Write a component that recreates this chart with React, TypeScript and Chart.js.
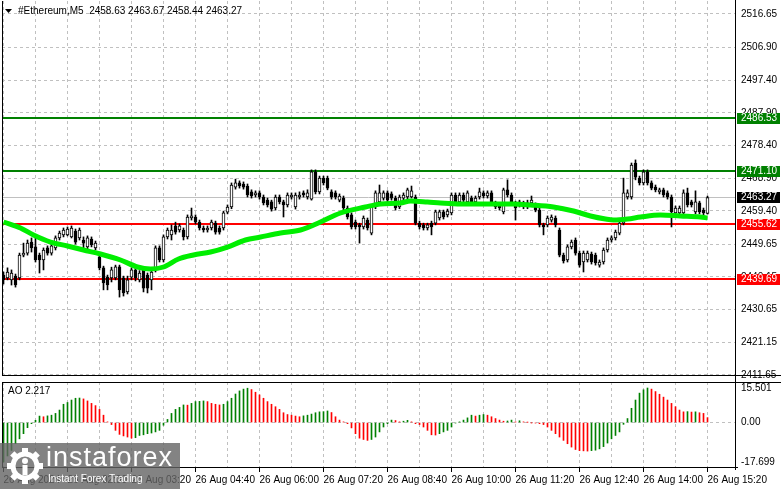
import React, { useEffect, useRef } from "react";
import { Chart, registerables } from "chart.js";

Chart.register(...registerables);

// ---------- data ----------
const SYMBOL = "#Ethereum,M5";

const TIME_LABELS = [
  "26 Aug 2024", "26 Aug 02:00", "26 Aug 03:20", "26 Aug 04:40", "26 Aug 06:00", "26 Aug 07:20",
  "26 Aug 08:40", "26 Aug 10:00", "26 Aug 11:20", "26 Aug 12:40", "26 Aug 14:00", "26 Aug 15:20",
];

const OPEN = [
  2440.7, 2439.9, 2439.3, 2440.4, 2439.9, 2446.5, 2447.1, 2450.3, 2448.9, 2446.5,
  2445.1, 2448.6, 2447.1, 2448.6, 2451.5, 2452.4, 2452.4, 2451.8, 2453.5, 2451.5,
  2450.9, 2448.9, 2451.2, 2448.6, 2446.0, 2442.8, 2440.1, 2439.9, 2439.9, 2443.1,
  2439.9, 2435.8, 2440.1, 2442.2, 2439.3, 2442.2, 2440.7, 2439.3, 2442.2, 2448.6,
  2445.1, 2451.8, 2452.4, 2455.0, 2453.8, 2453.8, 2451.8, 2457.3, 2457.6, 2456.1,
  2454.4, 2453.8, 2454.4, 2455.8, 2454.4, 2454.4, 2459.0, 2460.5, 2466.3, 2467.5,
  2467.2, 2466.6, 2464.9, 2464.0, 2464.6, 2463.4, 2462.5, 2462.0, 2460.2, 2463.4,
  2462.0, 2461.1, 2463.4, 2460.5, 2463.4, 2464.6, 2463.4, 2462.8, 2470.7, 2464.9,
  2468.9, 2468.9, 2464.9, 2464.6, 2462.5, 2463.1, 2460.2, 2458.2, 2456.1, 2455.3,
  2454.7, 2456.7, 2452.9, 2460.5, 2462.0, 2463.1, 2464.6, 2464.3, 2463.1, 2460.5,
  2463.1, 2463.4, 2463.4, 2463.4, 2455.8, 2455.3, 2454.4, 2455.8, 2455.8, 2457.3,
  2459.1, 2458.2, 2458.8, 2464.0, 2462.0, 2464.0, 2462.0, 2463.1, 2462.0, 2463.4,
  2464.6, 2463.7, 2464.6, 2461.7, 2461.1, 2459.1, 2465.5, 2464.0, 2461.7, 2461.1,
  2460.5, 2460.5, 2461.7, 2461.1, 2459.6, 2455.3, 2455.3, 2456.7, 2457.3, 2453.8,
  2446.5, 2445.1, 2448.9, 2450.9, 2447.1, 2444.5, 2445.1, 2446.8, 2446.5, 2443.6,
  2444.5, 2448.0, 2450.9, 2451.5, 2452.9, 2455.8, 2463.4, 2463.4, 2473.3, 2468.9,
  2467.5, 2470.7, 2467.5, 2466.3, 2464.9, 2465.5, 2464.6, 2463.4, 2458.8, 2458.8,
  2458.8, 2464.6, 2462.0, 2459.1, 2461.7, 2459.6, 2458.63,
];

const HIGH = [
  2441.6, 2442.8, 2442.2, 2441.0, 2447.1, 2450.0, 2450.9, 2451.5, 2451.8, 2447.1,
  2448.6, 2449.2, 2449.7, 2452.1, 2453.5, 2454.4, 2454.7, 2455.0, 2454.1, 2454.4,
  2451.8, 2452.1, 2451.8, 2450.6, 2446.5, 2443.3, 2440.7, 2443.0, 2443.6, 2443.6,
  2440.4, 2440.4, 2442.8, 2442.8, 2442.0, 2442.8, 2441.3, 2442.2, 2449.2, 2449.2,
  2452.4, 2454.4, 2455.3, 2456.1, 2455.6, 2454.4, 2458.2, 2460.2, 2458.2, 2456.7,
  2455.0, 2455.0, 2456.7, 2456.4, 2455.0, 2459.3, 2461.1, 2467.5, 2468.6, 2468.1,
  2467.8, 2467.2, 2465.5, 2465.2, 2465.2, 2464.0, 2463.1, 2462.5, 2464.0, 2464.0,
  2462.5, 2464.6, 2464.6, 2464.6, 2464.9, 2465.2, 2465.5, 2471.3, 2471.3, 2469.5,
  2469.5, 2469.5, 2465.5, 2465.2, 2464.3, 2463.7, 2460.8, 2458.8, 2456.7, 2455.8,
  2457.9, 2457.3, 2461.1, 2465.2, 2466.9, 2465.2, 2465.2, 2464.9, 2463.7, 2464.0,
  2464.6, 2466.0, 2466.6, 2464.0, 2456.4, 2455.8, 2455.8, 2456.4, 2459.6, 2459.6,
  2459.6, 2459.9, 2464.6, 2464.6, 2464.6, 2464.6, 2465.2, 2463.7, 2463.7, 2466.0,
  2465.2, 2465.2, 2465.2, 2462.2, 2461.7, 2466.0, 2468.4, 2464.6, 2462.2, 2462.5,
  2462.2, 2462.5, 2463.7, 2461.7, 2460.2, 2455.8, 2457.9, 2458.2, 2457.9, 2454.4,
  2447.1, 2449.5, 2450.9, 2451.5, 2447.7, 2447.7, 2447.7, 2447.4, 2447.1, 2445.1,
  2448.6, 2451.5, 2452.1, 2453.8, 2456.4, 2468.9, 2465.5, 2473.3, 2474.2, 2469.5,
  2471.3, 2471.3, 2468.1, 2466.9, 2466.0, 2466.0, 2465.2, 2464.0, 2460.8, 2460.8,
  2465.5, 2466.0, 2462.5, 2465.2, 2462.2, 2460.2, 2463.67,
];

const LOW = [
  2438.1, 2439.3, 2437.8, 2437.2, 2439.3, 2446.0, 2446.5, 2447.4, 2444.5, 2441.3,
  2442.2, 2446.5, 2446.5, 2448.0, 2450.9, 2451.8, 2452.1, 2451.5, 2449.7, 2450.9,
  2448.6, 2448.3, 2448.9, 2448.0, 2442.2, 2436.4, 2436.4, 2438.7, 2439.3, 2434.3,
  2434.6, 2435.2, 2439.3, 2439.0, 2438.7, 2435.8, 2435.5, 2436.4, 2441.6, 2444.5,
  2444.5, 2451.2, 2450.9, 2452.6, 2453.2, 2450.9, 2451.2, 2456.7, 2455.6, 2453.8,
  2453.2, 2453.2, 2453.8, 2452.6, 2452.6, 2453.8, 2458.5, 2460.0, 2465.7, 2466.0,
  2465.7, 2463.4, 2463.1, 2463.4, 2462.8, 2461.1, 2460.5, 2459.3, 2459.6, 2461.4,
  2457.6, 2460.5, 2462.8, 2459.9, 2462.8, 2463.4, 2462.8, 2462.5, 2464.3, 2464.3,
  2466.9, 2465.5, 2462.8, 2462.8, 2462.0, 2459.6, 2457.0, 2454.1, 2454.1, 2450.0,
  2454.1, 2453.8, 2452.4, 2460.0, 2461.4, 2462.5, 2462.0, 2462.5, 2459.6, 2460.0,
  2462.5, 2462.8, 2463.1, 2455.3, 2454.1, 2453.8, 2453.8, 2452.4, 2455.3, 2456.7,
  2457.0, 2457.6, 2458.2, 2461.4, 2461.4, 2462.0, 2461.4, 2461.4, 2461.4, 2462.8,
  2463.1, 2463.1, 2461.4, 2460.0, 2459.6, 2458.5, 2463.4, 2461.1, 2456.7, 2460.5,
  2460.0, 2460.0, 2461.1, 2459.1, 2454.7, 2452.4, 2454.7, 2456.1, 2454.7, 2446.0,
  2444.2, 2444.5, 2448.3, 2446.5, 2443.0, 2441.6, 2444.5, 2443.9, 2443.6, 2443.0,
  2443.9, 2447.4, 2450.3, 2450.9, 2452.4, 2455.3, 2462.8, 2462.8, 2468.4, 2466.9,
  2466.9, 2466.9, 2465.5, 2464.9, 2464.3, 2463.4, 2462.8, 2454.7, 2458.2, 2458.2,
  2458.2, 2460.5, 2460.5, 2458.5, 2458.5, 2458.2, 2458.44,
];

const CLOSE = [
  2439.3, 2441.6, 2441.3, 2437.8, 2446.5, 2447.1, 2450.0, 2448.6, 2445.1, 2445.1,
  2448.0, 2447.1, 2449.2, 2451.5, 2452.9, 2453.8, 2454.1, 2454.4, 2450.3, 2453.8,
  2450.0, 2451.5, 2449.5, 2450.0, 2442.8, 2438.4, 2437.8, 2442.2, 2443.1, 2436.4,
  2435.5, 2439.3, 2442.2, 2439.9, 2441.3, 2436.9, 2436.9, 2441.6, 2448.6, 2445.1,
  2451.8, 2453.8, 2453.8, 2453.2, 2455.0, 2451.8, 2457.6, 2457.9, 2456.1, 2454.4,
  2453.8, 2454.4, 2456.1, 2453.2, 2453.2, 2458.8, 2460.5, 2466.9, 2467.5, 2466.6,
  2466.3, 2464.0, 2463.7, 2464.6, 2463.4, 2461.7, 2461.1, 2459.9, 2463.4, 2462.0,
  2461.1, 2464.0, 2464.0, 2464.0, 2464.0, 2464.0, 2464.6, 2470.7, 2464.9, 2468.9,
  2467.5, 2466.0, 2463.4, 2463.4, 2463.7, 2460.2, 2457.6, 2454.7, 2454.7, 2454.7,
  2457.3, 2454.4, 2460.5, 2464.6, 2464.6, 2464.6, 2462.5, 2463.1, 2460.2, 2463.4,
  2464.0, 2465.5, 2465.2, 2455.8, 2454.7, 2454.4, 2455.3, 2454.7, 2459.1, 2459.1,
  2457.6, 2459.3, 2464.0, 2462.0, 2464.0, 2462.5, 2464.6, 2462.0, 2463.1, 2464.9,
  2463.7, 2464.6, 2462.0, 2460.5, 2460.2, 2465.5, 2464.0, 2461.7, 2460.2, 2462.0,
  2461.7, 2461.7, 2462.5, 2459.6, 2455.3, 2454.7, 2457.3, 2457.6, 2455.3, 2446.5,
  2444.8, 2448.9, 2450.3, 2447.1, 2443.6, 2447.1, 2447.1, 2444.5, 2444.2, 2444.5,
  2448.0, 2450.9, 2451.5, 2453.2, 2455.8, 2464.6, 2464.6, 2472.7, 2469.2, 2467.5,
  2470.7, 2467.5, 2466.0, 2465.5, 2465.5, 2464.0, 2463.4, 2459.1, 2460.2, 2460.2,
  2464.6, 2461.1, 2461.1, 2462.0, 2459.1, 2458.8, 2463.27,
];

// Moving average (candle index, price)
const MA_X = [
  0, 4.25, 7.5, 11.75, 16, 20, 24.25, 29.25, 33.5, 36.75, 40, 43.75, 47.5, 51.75, 56, 60.5,
  64.25, 69.25, 74.25, 79.25, 84.25, 90.5, 94.25, 99.25, 101.75, 106, 109.25, 114.25, 120.5,
  127.5, 131.75, 137.5, 142.5, 146.75, 150.5, 152.5, 156, 159.25, 164.25, 169.25, 174.25, 176,
];
const MA_Y = [
  2456.14, 2454.39, 2452.36, 2450.32, 2449.16, 2447.99, 2446.83, 2445.09, 2443.05, 2442.47,
  2443.05, 2445.38, 2446.54, 2447.41, 2448.86, 2450.9, 2451.77, 2452.94, 2453.81, 2456.14,
  2458.76, 2460.5, 2461.38, 2461.67, 2462.25, 2461.96, 2461.67, 2461.38, 2461.38, 2461.38,
  2461.09, 2460.5, 2459.34, 2457.89, 2457.01, 2456.72, 2457.01, 2457.59, 2458.18, 2457.89,
  2457.59, 2457.3,
];

// Awesome Oscillator histogram
const AO = [
  -17.699, -15.0, -12.5, -9.5, -7.3, -5.0, -2.3, -0.5, 1.0, 2.9,
  2.6, 3.0, 3.3, 4.1, 5.6, 8.2, 9.0, 10.1, 10.9, 11.0,
  10.6, 9.7, 8.6, 7.6, 5.9, 3.3, 0.3, -0.9, -3.5, -5.3,
  -6.0, -6.5, -7.0, -6.8, -5.8, -5.5, -5.0, -4.7, -4.2, -3.5,
  -1.2, 1.4, 4.1, 5.9, 6.8, 7.9, 7.8, 8.6, 9.4, 9.5,
  9.7, 9.4, 8.6, 8.2, 7.9, 8.2, 9.4, 10.9, 12.8, 14.2,
  15.0, 15.4, 14.8, 13.6, 12.4, 10.9, 9.4, 8.2, 7.1, 5.9,
  4.4, 3.6, 3.3, 2.9, 2.6, 3.0, 3.3, 3.8, 4.4, 4.8,
  4.9, 5.2, 4.5, 2.6, 1.1, 0.3, -0.5, -2.4, -5.0, -7.0,
  -7.6, -8.0, -7.6, -6.5, -4.2, -2.0, -0.5, 1.1, 0.9, 0.3,
  0.6, 1.0, 0.3, -0.5, -0.9, -2.0, -3.5, -5.5, -5.6, -5.0,
  -4.2, -3.5, -2.0, -0.2, 0.3, 1.1, 2.1, 3.3, 2.9, 3.3,
  3.6, 3.3, 2.6, 1.8, 1.1, 0.6, 0.7, 1.1, 0.3, 0.8,
  0.3, 0.1, -0.1, -0.2, -0.5, -0.9, -2.0, -3.5, -5.0, -6.5,
  -8.0, -9.5, -11.0, -12.1, -12.6, -12.7, -12.8, -12.6, -12.4, -11.8,
  -10.8, -9.2, -7.3, -5.8, -4.2, -0.8, 1.8, 6.4, 10.1, 13.2,
  14.7, 15.501, 15.0, 13.9, 12.7, 11.4, 10.1, 8.6, 7.1, 5.6,
  4.8, 4.9, 4.7, 4.8, 4.4, 4.1, 2.217,
];

const PRICE_TICKS = [
  2516.65, 2506.9, 2497.4, 2487.9, 2478.4, 2468.9, 2459.4, 2449.65, 2440.15, 2430.65, 2421.15, 2411.65,
];
const AO_TICKS = [15.501, 0, -17.699];
const RESISTANCE = [2486.53, 2471.1];
const SUPPORT = [2455.62, 2439.69];

// ---------- scale / layout settings ----------
const PRICE_MIN = 2411.34;
const PRICE_MAX = 2520.43;
const AO_MIN = -20.39;
const AO_MAX = 18.19;
const X_MIN = -0.375;
const X_MAX = 182.875;
const GRID_EVERY = 8;
const LABEL_EVERY = 16;
const W = 781;
const MAIN_H = 378;
const AO_TOP = 376;
const AO_H = 113;
const AXIS_W = 46;

const FONT_FAMILY = "'Liberation Sans', Arial, sans-serif";
const GRID_COLOR = "#c0c0c0";
const GREEN = "#008000";
const RED = "#ff0000";
const MA_COLOR = "#00ee00";

const xTickValues = () => {
  const t: { value: number }[] = [];
  for (let i = 0; i < CLOSE.length; i += GRID_EVERY) t.push({ value: i });
  return t;
};

const noPad = (s: any) => {
  s.paddingTop = 0;
  s.paddingBottom = 0;
  s.paddingLeft = 0;
  s.paddingRight = 0;
};

const mainDeco = {
  id: "mainDeco",
  beforeDatasetsDraw(chart: any) {
    const { ctx, chartArea, scales } = chart;
    const y = scales.y;
    ctx.save();
    const bid = CLOSE[CLOSE.length - 1];
    const yb = Math.round(y.getPixelForValue(bid)) + 0.5;
    ctx.strokeStyle = GRID_COLOR;
    ctx.lineWidth = 1;
    ctx.beginPath();
    ctx.moveTo(chartArea.left, yb);
    ctx.lineTo(chartArea.right, yb);
    ctx.stroke();
    const lvl = (v: number, c: string) => {
      const py = Math.round(y.getPixelForValue(v));
      ctx.fillStyle = c;
      ctx.fillRect(chartArea.left, py - 1, chartArea.right - chartArea.left, 2);
    };
    RESISTANCE.forEach((v) => lvl(v, GREEN));
    SUPPORT.forEach((v) => lvl(v, RED));
    ctx.restore();
  },
  afterDraw(chart: any) {
    const { ctx, chartArea, scales } = chart;
    const y = scales.y;
    const { left, right, top, bottom } = chartArea;
    ctx.save();
    ctx.strokeStyle = "#000";
    ctx.lineWidth = 1;
    ctx.beginPath();
    ctx.moveTo(left + 0.5, top);
    ctx.lineTo(left + 0.5, bottom);
    ctx.moveTo(Math.round(right) + 0.5, 0);
    ctx.lineTo(Math.round(right) + 0.5, chart.height);
    ctx.moveTo(left, Math.round(bottom) - 0.5);
    ctx.lineTo(chart.width, Math.round(bottom) - 0.5);
    ctx.stroke();

    ctx.font = `10px ${FONT_FAMILY}`;
    ctx.textBaseline = "middle";
    ctx.textAlign = "left";
    const box = (v: number, bg: string) => {
      const py = Math.round(y.getPixelForValue(v));
      ctx.fillStyle = bg;
      ctx.fillRect(right + 2, py - 5, 43, 11);
      ctx.fillStyle = "#fff";
      ctx.fillText(v.toFixed(2), right + 6, py + 0.5);
    };
    RESISTANCE.forEach((v) => box(v, GREEN));
    box(CLOSE[CLOSE.length - 1], "#000");
    SUPPORT.forEach((v) => box(v, RED));

    ctx.fillStyle = "#000";
    ctx.beginPath();
    ctx.moveTo(5, 9);
    ctx.lineTo(12, 9);
    ctx.lineTo(8.5, 13);
    ctx.closePath();
    ctx.fill();
    const n = CLOSE.length - 1;
    const hdr = `${SYMBOL}  ${OPEN[n].toFixed(2)} ${HIGH[n].toFixed(2)} ${LOW[n].toFixed(2)} ${CLOSE[n].toFixed(2)}`;
    ctx.fillText(hdr, 18, 11.5);
    ctx.restore();
  },
};

const aoDeco = {
  id: "aoDeco",
  afterDraw(chart: any) {
    const { ctx, chartArea } = chart;
    const { left, right, top, bottom } = chartArea;
    ctx.save();
    ctx.strokeStyle = "#000";
    ctx.lineWidth = 1;
    ctx.beginPath();
    ctx.moveTo(left, Math.round(top) + 0.5);
    ctx.lineTo(chart.width, Math.round(top) + 0.5);
    ctx.moveTo(left + 0.5, top);
    ctx.lineTo(left + 0.5, bottom);
    ctx.moveTo(Math.round(right) + 0.5, 0);
    ctx.lineTo(Math.round(right) + 0.5, bottom + 2);
    ctx.moveTo(left, Math.round(bottom) - 0.5);
    ctx.lineTo(right + 3, Math.round(bottom) - 0.5);
    ctx.stroke();
    ctx.fillStyle = "#000";
    ctx.font = `10px ${FONT_FAMILY}`;
    ctx.textBaseline = "middle";
    ctx.fillText(`AO ${AO[AO.length - 1].toFixed(3)}`, 8, top + 9);
    ctx.restore();
  },
};

function Gear() {
  const teeth = [0, 45, 90, 135, 180, 225, 270, 315];
  return (
    <svg width="38" height="38" viewBox="0 0 38 38" style={{ position: "absolute", left: 6, top: 4 }}>
      {teeth.map((a) => (
        <rect key={a} x="16" y="1" width="6" height="8" fill="#fff" transform={`rotate(${a} 19 19)`} />
      ))}
      <circle cx="19" cy="19" r="12" fill="none" stroke="#fff" strokeWidth="5" />
      <circle cx="19" cy="14" r="3" fill="#fff" />
      <rect x="16.5" y="18" width="5" height="10" fill="#fff" />
    </svg>
  );
}

export default function App() {
  const mainRef = useRef<HTMLCanvasElement>(null);
  const aoRef = useRef<HTMLCanvasElement>(null);

  useEffect(() => {
    Chart.defaults.font.family = FONT_FAMILY;
    Chart.defaults.font.size = 10;
    Chart.defaults.color = "#000";

    const bodies = OPEN.map((o, i) => ({ x: i, y: [o, CLOSE[i]] }));
    const wicks = OPEN.map((_, i) => ({ x: i, y: [LOW[i], HIGH[i]] }));
    const ma = MA_X.map((x, i) => ({ x, y: MA_Y[i] }));

    const main = new Chart(mainRef.current as HTMLCanvasElement, {
      type: "bar",
      data: {
        datasets: [
          {
            type: "line",
            data: ma as any,
            borderColor: MA_COLOR,
            borderWidth: 5,
            pointRadius: 0,
            cubicInterpolationMode: "monotone",
            order: 0,
          } as any,
          {
            type: "bar",
            data: bodies as any,
            backgroundColor: (c: any) => (CLOSE[c.dataIndex] >= OPEN[c.dataIndex] ? "#ffffff" : "#000000"),
            borderColor: "#000",
            borderWidth: 1,
            borderSkipped: false,
            barThickness: 3,
            minBarLength: 1,
            grouped: false,
            order: 1,
          } as any,
          {
            type: "bar",
            data: wicks as any,
            backgroundColor: "#000",
            barThickness: 1,
            grouped: false,
            order: 2,
          } as any,
        ],
      },
      options: {
        animation: false,
        responsive: false,
        maintainAspectRatio: false,
        events: [],
        layout: { padding: { left: 2, top: 1, right: 0, bottom: 2 } },
        plugins: { legend: { display: false }, tooltip: { enabled: false } },
        scales: {
          x: {
            type: "linear",
            min: X_MIN,
            max: X_MAX,
            offset: false,
            grid: { offset: false, color: GRID_COLOR, drawTicks: false },
            border: { display: false, dash: [3, 3] },
            ticks: { display: false },
            afterBuildTicks: (s: any) => {
              s.ticks = xTickValues();
            },
            afterFit: (s: any) => {
              s.height = 0;
              noPad(s);
            },
          },
          y: {
            position: "right",
            min: PRICE_MIN,
            max: PRICE_MAX,
            beginAtZero: false,
            grid: { color: GRID_COLOR, drawTicks: false },
            border: { display: false, dash: [3, 3] },
            ticks: {
              autoSkip: false,
              padding: 6,
              color: "#000",
              font: { family: FONT_FAMILY, size: 10 },
              callback: (v: any) => Number(v).toFixed(2),
            },
            afterBuildTicks: (s: any) => {
              s.ticks = PRICE_TICKS.map((v) => ({ value: v }));
            },
            afterFit: (s: any) => {
              s.width = AXIS_W;
              noPad(s);
            },
          },
        },
      } as any,
      plugins: [mainDeco],
    });

    const ao = new Chart(aoRef.current as HTMLCanvasElement, {
      type: "bar",
      data: {
        datasets: [
          {
            data: AO.map((v, i) => ({ x: i, y: v })) as any,
            backgroundColor: (c: any) => {
              const i = c.dataIndex;
              return i === 0 || AO[i] >= AO[i - 1] ? GREEN : RED;
            },
            barThickness: 1,
            grouped: false,
          } as any,
        ],
      },
      options: {
        animation: false,
        responsive: false,
        maintainAspectRatio: false,
        events: [],
        layout: { padding: { left: 2, top: 6, right: 0, bottom: 0 } },
        plugins: { legend: { display: false }, tooltip: { enabled: false } },
        scales: {
          x: {
            type: "linear",
            min: X_MIN,
            max: X_MAX,
            offset: false,
            grid: {
              offset: false,
              color: GRID_COLOR,
              drawTicks: true,
              tickLength: 4,
              tickColor: (c: any) => (c.tick && c.tick.value % LABEL_EVERY === 0 ? "#000" : "rgba(0,0,0,0)"),
            },
            border: { display: false, dash: [3, 3] },
            ticks: {
              autoSkip: false,
              maxRotation: 0,
              minRotation: 0,
              align: "start",
              padding: 2,
              color: "#000",
              font: { family: FONT_FAMILY, size: 10 },
              callback: (v: any) => (Number(v) % LABEL_EVERY === 0 ? TIME_LABELS[Number(v) / LABEL_EVERY] : ""),
            },
            afterBuildTicks: (s: any) => {
              s.ticks = xTickValues();
            },
            afterFit: (s: any) => {
              s.height = 21;
              noPad(s);
            },
          },
          y: {
            position: "right",
            min: AO_MIN,
            max: AO_MAX,
            beginAtZero: false,
            grid: {
              color: (c: any) => (c.tick && c.tick.value === 0 ? GRID_COLOR : "rgba(0,0,0,0)"),
              drawTicks: false,
            },
            border: { display: false, dash: [3, 3] },
            ticks: {
              autoSkip: false,
              padding: 6,
              color: "#000",
              font: { family: FONT_FAMILY, size: 10 },
              callback: (v: any) => (Number(v) === 0 ? "0.00" : Number(v).toFixed(3)),
            },
            afterBuildTicks: (s: any) => {
              s.ticks = AO_TICKS.map((v) => ({ value: v }));
            },
            afterFit: (s: any) => {
              s.width = AXIS_W;
              noPad(s);
            },
          },
        },
      } as any,
      plugins: [aoDeco],
    });

    return () => {
      main.destroy();
      ao.destroy();
    };
  }, []);

  return (
    <div
      style={{
        position: "fixed",
        left: 0,
        top: 0,
        width: W,
        height: 489,
        background: "#fff",
        overflow: "hidden",
      }}
    >
      <canvas ref={mainRef} width={W} height={MAIN_H} style={{ position: "absolute", left: 0, top: 0 }} />
      <canvas ref={aoRef} width={W} height={AO_H} style={{ position: "absolute", left: 0, top: AO_TOP }} />
      <div
        style={{
          position: "absolute",
          left: 0,
          top: 443,
          width: 180,
          height: 46,
          background: "rgba(100,100,100,0.8)",
          color: "#fff",
          fontFamily: FONT_FAMILY,
        }}
      >
        <Gear />
        <div
          style={{
            position: "absolute",
            left: 46,
            top: -2,
            fontSize: 27,
            letterSpacing: 1,
            lineHeight: "32px",
            whiteSpace: "nowrap",
          }}
        >
          instaforex
        </div>
        <div
          style={{
            position: "absolute",
            left: 48,
            top: 30,
            fontSize: 10,
            lineHeight: "12px",
            whiteSpace: "nowrap",
          }}
        >
          Instant Forex Trading
        </div>
      </div>
    </div>
  );
}
